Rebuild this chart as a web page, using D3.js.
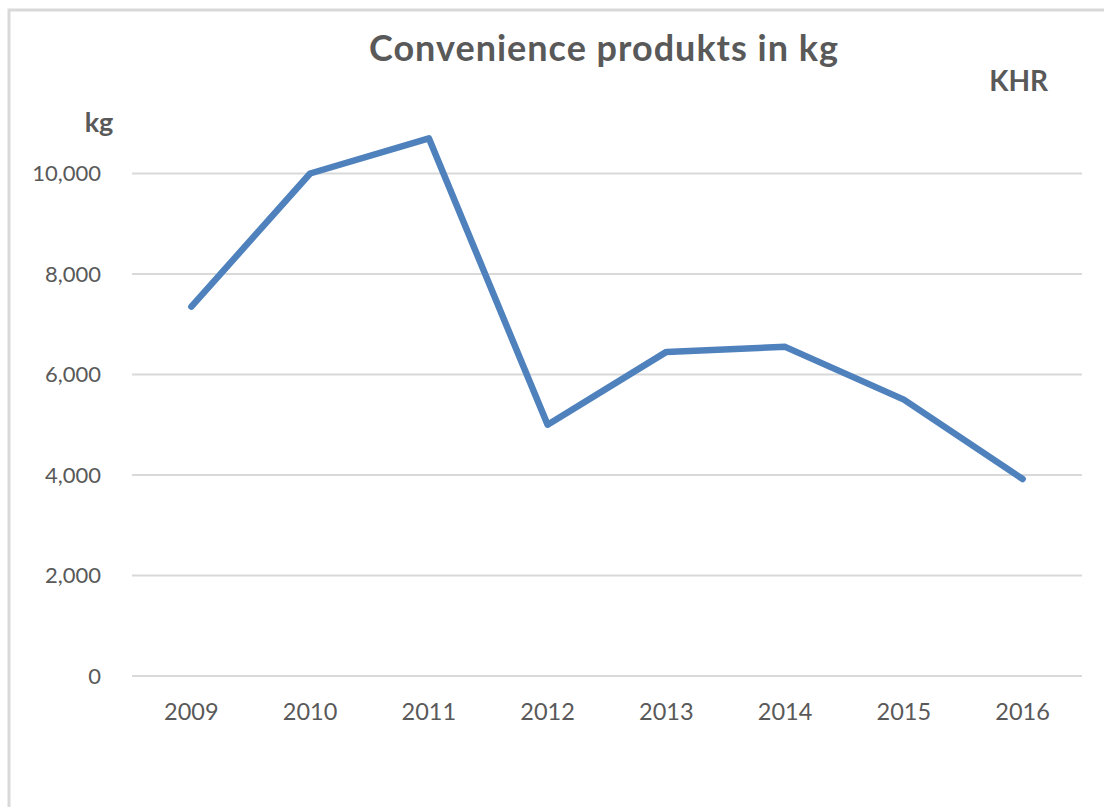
<!DOCTYPE html>
<html>
<head>
<meta charset="utf-8">
<script src="https://cdn.jsdelivr.net/npm/d3@7"></script>
<style>
  body { margin: 0; background: #fff; }
  text { font-family: Lato, "Open Sans", sans-serif; fill: #595959; }
</style>
</head>
<body>
<svg id="chart" width="1104" height="807"></svg>
<script>
// data
var years = ["2009", "2010", "2011", "2012", "2013", "2014", "2015", "2016"];
var kg = [7350, 10000, 10700, 5000, 6450, 6550, 5500, 3920];
var yTicks = [0, 2000, 4000, 6000, 8000, 10000];

var svg = d3.select("#chart"),
  width = +svg.attr("width"),
  height = +svg.attr("height");

var margin = { left: 132, right: 1082, bottom: 676 };

// chart frame, cut off at right and bottom like the screenshot
svg.append("path")
  .attr("d", "M9," + height + " V10 H" + width)
  .attr("fill", "none")
  .attr("stroke", "#d9d9d9")
  .attr("stroke-width", 3);

var x = d3.scaleBand()
  .domain(years)
  .range([margin.left, margin.right]);

var y = d3.scaleLinear()
  .domain([0, 12000])
  .range([margin.bottom, 73]);

//gridlines
svg.append("g")
  .attr("class", "grid")
  .selectAll("line")
  .data(yTicks)
  .enter()
  .append("line")
  .attr("x1", margin.left)
  .attr("x2", margin.right)
  .attr("y1", function(d) { return y(d); })
  .attr("y2", function(d) { return y(d); })
  .attr("stroke", "#d9d9d9")
  .attr("stroke-width", 2);

//y tick labels
var yAxis = d3.axisLeft(y)
  .tickValues(yTicks)
  .tickFormat(d3.format(","))
  .tickSize(0)
  .tickPadding(0);

var gy = svg.append("g")
  .attr("transform", "translate(101,0)")
  .call(yAxis);
gy.select(".domain").remove();
gy.selectAll("text")
  .style("font-size", "22px")
  .attr("fill", "#595959");

//x tick labels
var xAxis = d3.axisBottom(x).tickSize(0).tickPadding(0);
var gx = svg.append("g")
  .attr("transform", "translate(0,703)")
  .call(xAxis);
gx.select(".domain").remove();
gx.selectAll("text")
  .style("font-size", "23.5px")
  .attr("fill", "#595959");

//the line
var line = d3.line()
  .x(function(d, i) { return x(years[i]) + x.bandwidth() / 2; })
  .y(function(d) { return y(d); });

svg.append("path")
  .datum(kg)
  .attr("d", line)
  .attr("fill", "none")
  .attr("stroke", "#4f81bd")
  .attr("stroke-width", 6.5)
  .attr("stroke-linejoin", "round")
  .attr("stroke-linecap", "round");

//titles
svg.append("text")
  .attr("x", 604)
  .attr("y", 61)
  .attr("text-anchor", "middle")
  .style("font-size", "36px")
  .style("font-weight", "bold")
  .style("letter-spacing", "1px")
  .text("Convenience produkts in kg");

svg.append("text")
  .attr("x", 1048)
  .attr("y", 91)
  .attr("text-anchor", "end")
  .style("font-size", "28px")
  .style("font-weight", "bold")
  .text("KHR");

svg.append("text")
  .attr("x", 99)
  .attr("y", 132)
  .attr("text-anchor", "middle")
  .style("font-size", "27px")
  .style("font-weight", "bold")
  .text("kg");
</script>
</body>
</html>
